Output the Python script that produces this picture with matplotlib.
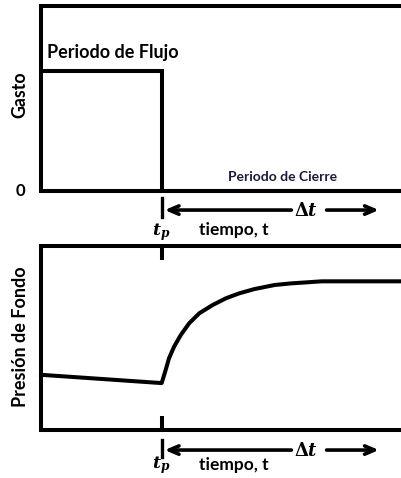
import matplotlib
matplotlib.use("Agg")
import matplotlib.pyplot as plt
from matplotlib.transforms import blended_transform_factory as btf

# ---- data ----
tp = 1.0
rate_time = [0.0, 1.0, 1.0, 3.0]
rate_vals = [0.65, 0.65, 0.0, 0.0]

press_time = [0.0, 1.0, 1.033, 1.061, 1.103, 1.158, 1.228, 1.311, 1.422, 1.533,
              1.644, 1.769, 1.936, 2.075, 2.214, 2.325, 3.0]
press_vals = [0.30, 0.255, 0.326, 0.390, 0.453, 0.516, 0.580, 0.634, 0.679, 0.716,
              0.743, 0.766, 0.788, 0.797, 0.803, 0.808, 0.808]

ylabel_top = "Gasto"
ylabel_bot = "Presión de Fondo"
flow_label = "Periodo de Flujo"
shut_label = "Periodo de Cierre"
time_label = "tiempo, t"

plt.rcParams['font.family'] = ['Lato', 'DejaVu Sans']
plt.rcParams['mathtext.fontset'] = 'dejavuserif'

W, H = 401, 478
fig = plt.figure(figsize=(W / 100, H / 100), dpi=100)
lw = 2.9

ax1 = fig.add_axes([41 / W, (H - 191) / H, 362 / W, 185 / H])
ax2 = fig.add_axes([41 / W, (H - 430) / H, 362 / W, 184 / H])

for ax in (ax1, ax2):
    ax.set_xlim(0, 3.0)
    ax.set_ylim(0, 1)
    ax.spines['right'].set_visible(False)
    for s in ('left', 'top', 'bottom'):
        ax.spines[s].set_linewidth(lw)
    ax.set_yticks([])

ax1.plot(rate_time, rate_vals, color='black', lw=lw, solid_joinstyle='miter', clip_on=False)
ax2.plot(press_time, press_vals, color='black', lw=lw, clip_on=False)

ax1.set_xticks([])
ax2.set_xticks([tp])
ax2.set_xticklabels([])
ax2.tick_params(axis='x', direction='in', top=True, bottom=True, length=10, width=lw)

ax1.text(0.05, 0.75, flow_label, fontsize=13, fontweight='bold', ha='left', va='center')
ax1.text(2.0, 0.076, shut_label, fontsize=10, fontweight='bold', ha='center', va='center',
         color='#1a1a3a')
ax1.text(-0.058, 0.0, "0", transform=ax1.transAxes, fontsize=12, fontweight='bold',
         ha='center', va='center')
ax1.text(-0.058, 0.52, ylabel_top, transform=ax1.transAxes, fontsize=12.8, fontweight='bold',
         rotation=90, ha='center', va='center')
ax2.text(-0.058, 0.505, ylabel_bot, transform=ax2.transAxes, fontsize=13, fontweight='bold',
         rotation=90, ha='center', va='center')


def time_annot(ax, y_arrow, y_mark0, y_mark1, y_tp, y_lab):
    tr = btf(ax.transData, ax.transAxes)
    ax.plot([tp, tp], [y_mark0, y_mark1], color='black', lw=2.4, transform=tr, clip_on=False)
    ax.annotate('', xy=(tp + 0.025, y_arrow), xytext=(2.075, y_arrow), xycoords=tr, textcoords=tr,
                arrowprops=dict(arrowstyle='->,head_length=0.7,head_width=0.3', lw=2.6, color='black',
                                shrinkA=0, shrinkB=0))
    ax.annotate('', xy=(2.8, y_arrow), xytext=(2.367, y_arrow), xycoords=tr, textcoords=tr,
                arrowprops=dict(arrowstyle='->,head_length=0.7,head_width=0.3', lw=2.6, color='black',
                                shrinkA=0, shrinkB=0))
    ax.text(2.2, y_arrow, r'$\mathbf{\Delta}\mathbfit{t}$', transform=tr, fontsize=13,
            ha='center', va='center')
    ax.text(tp, y_tp, r'$\mathbfit{t}_{\mathbfit{p}}$', transform=tr, fontsize=12.5,
            ha='center', va='center')
    ax.text(1.6, y_lab, time_label, transform=tr, fontsize=12.5, fontweight='bold',
            ha='center', va='center')


time_annot(ax1, -0.103, -0.038, -0.14, -0.22, -0.21)
time_annot(ax2, -0.109, -0.054, -0.147, -0.19, -0.19)

fig.savefig("out.png", dpi=100)
